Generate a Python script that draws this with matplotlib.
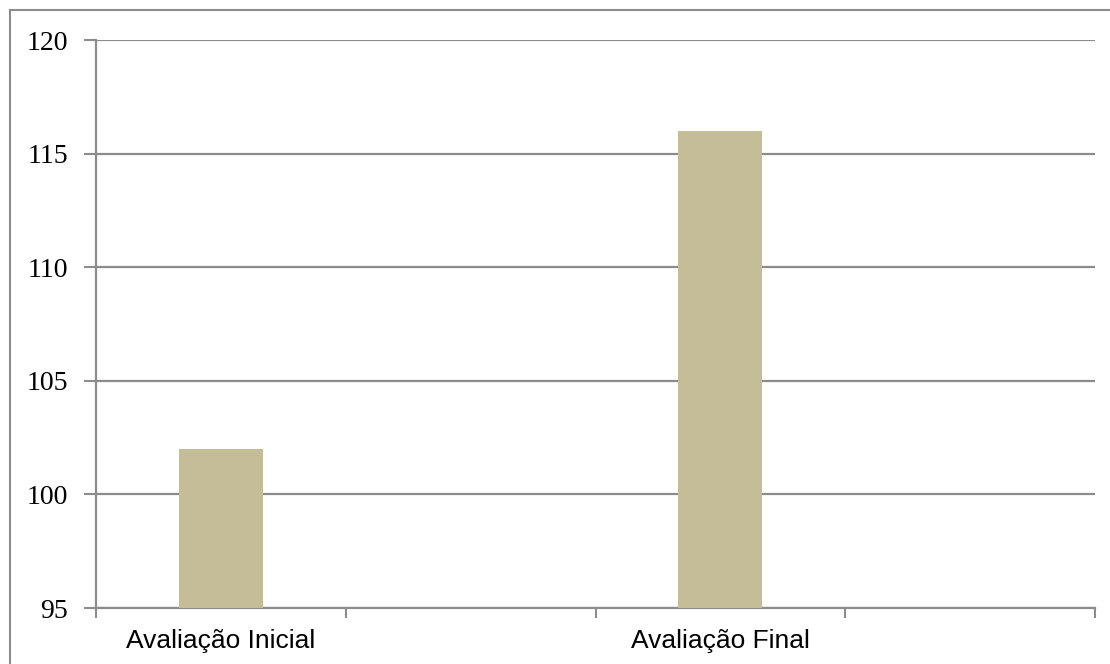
import numpy as np
import matplotlib as mpl
import matplotlib.pyplot as plt
from matplotlib.lines import Line2D

# categories on the x axis (two of the slots stay empty)
categories = ['Avaliação Inicial', '', 'Avaliação Final', '']
scores = [102, np.nan, 116, np.nan]
y_ticks = [95, 100, 105, 110, 115, 120]

grid_gray = '#8c8c8c'
bar_color = '#c4bd97'

fig = plt.figure(figsize=(11.10, 6.64), dpi=100)
ax = fig.add_axes([96/1110, 1 - 608/664, (1095 - 96)/1110, (608 - 40)/664])

x = np.arange(len(categories))
ax.bar(x, scores, width=0.336, color=bar_color, zorder=3)

ax.set_xlim(-0.5, len(categories) - 0.5)
ax.set_ylim(y_ticks[0], y_ticks[-1])
ax.set_yticks(y_ticks)
ax.set_yticklabels([str(v) for v in y_ticks], fontfamily='Liberation Serif', fontsize=20)

# category boundaries carry the tick marks, names sit in the middle
ax.set_xticks(np.arange(len(categories) + 1) - 0.5)
ax.set_xticklabels([])
ax.set_xticks(x, minor=True)
ax.set_xticklabels(categories, minor=True, fontfamily='Liberation Sans', fontsize=19)
ax.tick_params(axis='x', which='major', length=7, width=1.5, color=grid_gray, direction='out')
ax.tick_params(axis='x', which='minor', length=0, pad=15)
ax.tick_params(axis='y', length=9, width=1.5, color=grid_gray, pad=11)

ax.grid(axis='y', color=grid_gray, linewidth=1.6, zorder=0)
for side in ['top', 'right']:
    ax.spines[side].set_visible(False)
for side in ['left', 'bottom']:
    ax.spines[side].set_color(grid_gray)
    ax.spines[side].set_linewidth(1.6)

# outer chart frame
fx, fy = 10/1110, 1 - 10/664
fig.add_artist(Line2D([fx, 1.0], [fy, fy], transform=fig.transFigure, color=grid_gray, linewidth=1.5))
fig.add_artist(Line2D([fx, fx], [0.0, fy], transform=fig.transFigure, color=grid_gray, linewidth=1.5))

fig.savefig('out.png', dpi=100)
